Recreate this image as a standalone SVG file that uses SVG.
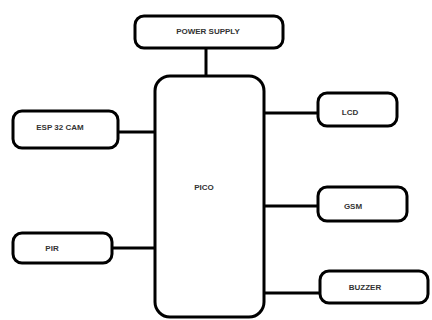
<svg xmlns="http://www.w3.org/2000/svg" width="432" height="320" viewBox="0 0 432 320">
<style>
.box{fill:#fff;stroke:#000;stroke-width:3}
.ln{stroke:#000;stroke-width:3;fill:none}
.t{font-family:"Liberation Sans",Arial,sans-serif;font-size:8px;font-weight:bold;fill:#333;text-anchor:middle;dominant-baseline:central}
</style>
<rect width="432" height="320" fill="#fff"/>
<g id="connectors">
<line class="ln" x1="206" y1="48" x2="206" y2="77"/>
<line class="ln" x1="118" y1="132" x2="156" y2="132"/>
<line class="ln" x1="112" y1="248" x2="156" y2="248"/>
<line class="ln" x1="263" y1="113" x2="318" y2="113"/>
<line class="ln" x1="263" y1="206" x2="318" y2="206"/>
<line class="ln" x1="263" y1="293" x2="320" y2="293"/>
</g>
<g id="power"><rect class="box" x="135" y="16" width="148" height="32" rx="9"/><text class="t" x="208" y="31">POWER SUPPLY</text></g>
<g id="pico"><rect class="box" x="155" y="76" width="109" height="241" rx="15"/><text class="t" x="204" y="187">PICO</text></g>
<g id="esp"><rect class="box" x="13" y="111" width="105" height="37" rx="9"/><text class="t" x="60" y="127">ESP 32 CAM</text></g>
<g id="pir"><rect class="box" x="13" y="233" width="99" height="30" rx="9"/><text class="t" x="52" y="248">PIR</text></g>
<g id="lcd"><rect class="box" x="318" y="93" width="79" height="33" rx="9"/><text class="t" x="350" y="112">LCD</text></g>
<g id="gsm"><rect class="box" x="318" y="187" width="89" height="34" rx="9"/><text class="t" x="353" y="206">GSM</text></g>
<g id="buzzer"><rect class="box" x="320" y="271" width="108" height="32" rx="9"/><text class="t" x="365" y="287">BUZZER</text></g>
</svg>
